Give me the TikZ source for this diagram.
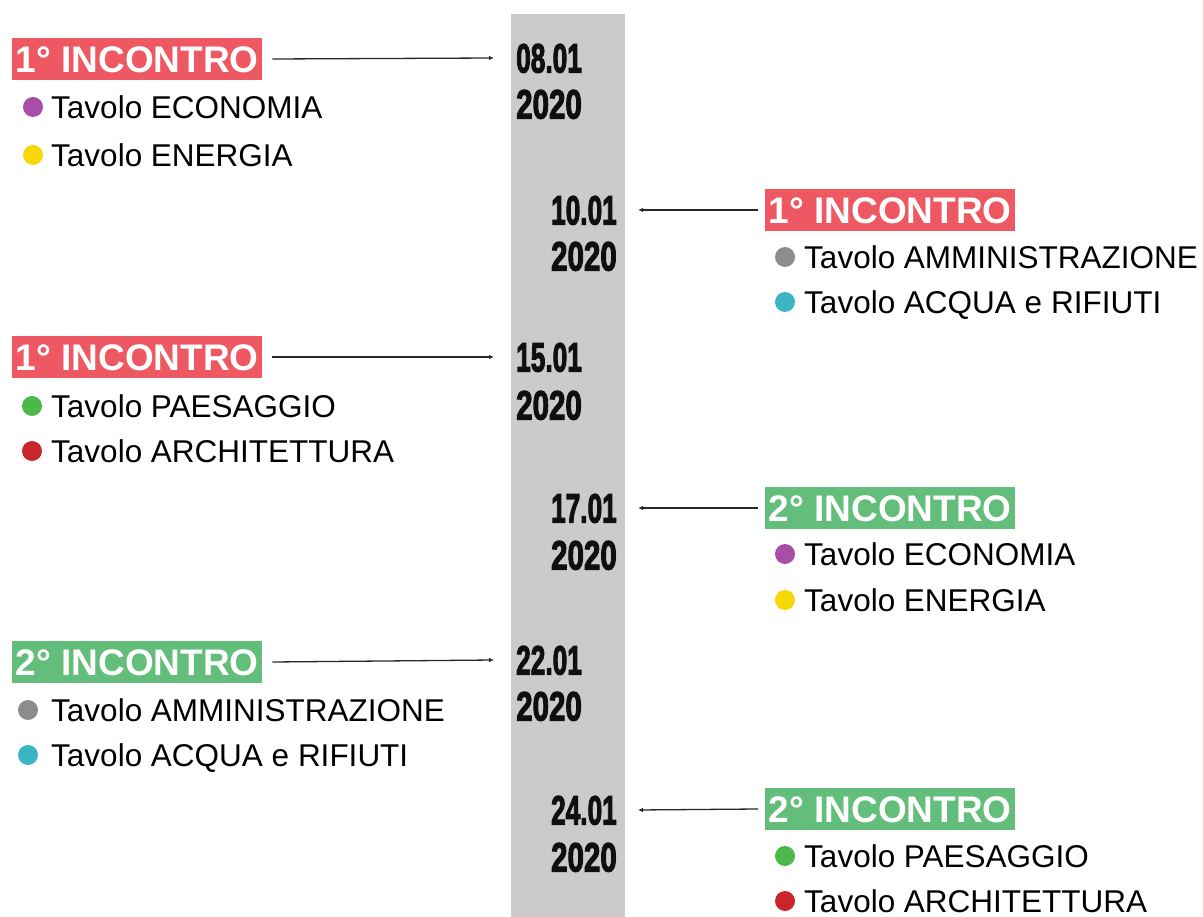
\documentclass[tikz,border=0pt]{standalone}
\usepackage{fontspec}
\setmainfont{Liberation Sans}
\newfontfamily\labfont{Liberation Sans}[BoldFont={* Bold}]
\newfontfamily\datefontfam{Liberation Sans Bold}[FakeBold=3]
\usetikzlibrary{arrows.meta}
\definecolor{barcol}{RGB}{205,202,202}
\definecolor{redlab}{RGB}{238,88,98}
\definecolor{greenlab}{RGB}{98,190,122}
\definecolor{cpurple}{RGB}{168,77,168}
\definecolor{cyellow}{RGB}{245,215,10}
\definecolor{cgray}{RGB}{140,140,140}
\definecolor{cteal}{RGB}{59,181,196}
\definecolor{cgreen}{RGB}{76,184,72}
\definecolor{cred}{RGB}{200,38,44}
\definecolor{datecol}{RGB}{15,15,15}
\definecolor{arrcol}{RGB}{40,40,40}
\newcommand{\dd}[1]{\scalebox{0.64}[1]{#1}}
\newcommand{\yy}[1]{\scalebox{0.72}[1]{#1}}
\tikzset{
  lab/.style={text=white, font={\labfont\bfseries\fontsize{37}{37}\selectfont},
    text height=26.5pt, text depth=0pt, minimum height=42pt, inner xsep=3.5pt, inner ysep=0pt},
  redbox/.style={lab, fill=redlab},
  greenbox/.style={lab, fill=greenlab},
  item/.style={font={\fontsize{31.5}{31.5}\selectfont}, text height=22.5pt, text depth=0pt,
    inner sep=0pt, anchor=west},
  datetxt/.style={font={\datefontfam\fontsize{41}{41}\selectfont}, text=datecol,
    text height=29pt, text depth=0pt, inner sep=0pt},
  conn/.style={draw=arrcol, line width=1.3pt, -{Latex[length=5pt,width=4.5pt]}},
}
\begin{document}
\begin{tikzpicture}[x=1pt,y=-1pt]
\useasboundingbox (0,0) rectangle (1203,917);
\fill[barcol] (511,14) rectangle (625,917);

% ---- left 1
\node[redbox, anchor=west] (l1) at (12,59) {1° INCONTRO};
\fill[cpurple] (33,107) circle (10);
\node[item] (l1a) at (51,107) {Tavolo ECONOMIA};
\fill[cyellow] (33,155) circle (10);
\node[item] (l1b) at (51,155) {Tavolo ENERGIA};
\node[datetxt, anchor=west] (d1) at (516,58) {\dd{08.01}};
\node[datetxt, anchor=west] (y1) at (516,104) {\yy{2020}};
\draw[conn] ([xshift=10pt]l1.east) -- ([xshift=-22pt]d1.west);

% ---- right 1
\node[redbox, anchor=west] (r1) at (765,210) {1° INCONTRO};
\fill[cgray] (785,257) circle (10);
\node[item] (r1a) at (804,257) {Tavolo AMMINISTRAZIONE};
\fill[cteal] (785,302) circle (10);
\node[item] (r1b) at (804,302) {Tavolo ACQUA e RIFIUTI};
\node[datetxt, anchor=east] (d2) at (617,210) {\dd{10.01}};
\node[datetxt, anchor=east] (y2) at (617,256) {\yy{2020}};
\draw[conn] ([xshift=-7pt]r1.west) -- ([xshift=21pt]d2.east);

% ---- left 2
\node[redbox, anchor=west] (l2) at (12,357) {1° INCONTRO};
\fill[cgreen] (32,406) circle (10);
\node[item] (l2a) at (51,406) {Tavolo PAESAGGIO};
\fill[cred] (32,451) circle (10);
\node[item] (l2b) at (51,451) {Tavolo ARCHITETTURA};
\node[datetxt, anchor=west] (d3) at (516,357) {\dd{15.01}};
\node[datetxt, anchor=west] (y3) at (516,405) {\yy{2020}};
\draw[conn] ([xshift=10pt]l2.east) -- ([xshift=-22pt]d3.west);

% ---- right 2
\node[greenbox, anchor=west] (r2) at (765,508) {2° INCONTRO};
\fill[cpurple] (785,554) circle (10);
\node[item] (r2a) at (804,554) {Tavolo ECONOMIA};
\fill[cyellow] (785,600) circle (10);
\node[item] (r2b) at (804,600) {Tavolo ENERGIA};
\node[datetxt, anchor=east] (d4) at (617,508) {\dd{17.01}};
\node[datetxt, anchor=east] (y4) at (617,555) {\yy{2020}};
\draw[conn] ([xshift=-7pt]r2.west) -- ([xshift=21pt]d4.east);

% ---- left 3
\node[greenbox, anchor=west] (l3) at (12,662) {2° INCONTRO};
\fill[cgray] (28,710) circle (10);
\node[item] (l3a) at (51,710) {Tavolo AMMINISTRAZIONE};
\fill[cteal] (28,755) circle (10);
\node[item] (l3b) at (51,755) {Tavolo ACQUA e RIFIUTI};
\node[datetxt, anchor=west] (d5) at (516,660) {\dd{22.01}};
\node[datetxt, anchor=west] (y5) at (516,706) {\yy{2020}};
\draw[conn] ([xshift=10pt]l3.east) -- ([xshift=-22pt]d5.west);

% ---- right 3
\node[greenbox, anchor=west] (r3) at (765,809) {2° INCONTRO};
\fill[cgreen] (785,856) circle (10);
\node[item] (r3a) at (804,856) {Tavolo PAESAGGIO};
\fill[cred] (785,901) circle (10);
\node[item] (r3b) at (804,901) {Tavolo ARCHITETTURA};
\node[datetxt, anchor=east] (d6) at (617,810) {\dd{24.01}};
\node[datetxt, anchor=east] (y6) at (617,857) {\yy{2020}};
\draw[conn] ([xshift=-7pt]r3.west) -- ([xshift=21pt]d6.east);
\end{tikzpicture}
\end{document}
